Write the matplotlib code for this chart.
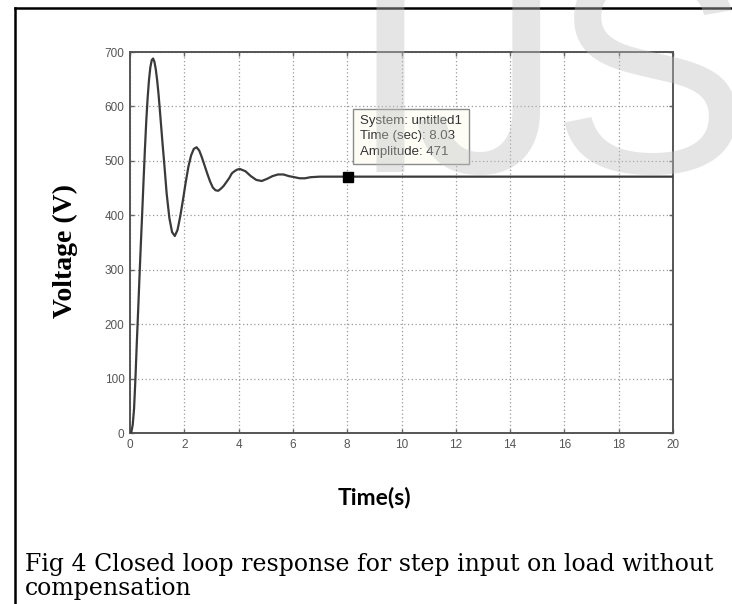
import matplotlib
matplotlib.use("Agg")
import matplotlib.pyplot as plt
from matplotlib.lines import Line2D

# Step response (time in s, voltage in V)
time_s = [0, 0.05, 0.1, 0.15, 0.2, 0.25, 0.3, 0.35, 0.4, 0.45, 0.5, 0.55,
          0.6, 0.65, 0.7, 0.75, 0.8, 0.85, 0.9, 0.95, 1.0, 1.05, 1.1, 1.15,
          1.2, 1.25, 1.35, 1.45, 1.55, 1.65, 1.75, 1.85, 1.95, 2.05, 2.15,
          2.25, 2.35, 2.45, 2.55, 2.65, 2.75, 2.85, 2.95, 3.05, 3.15, 3.25,
          3.35, 3.45, 3.55, 3.65, 3.75, 3.85, 3.95, 4.05, 4.25, 4.45, 4.65,
          4.85, 5.05, 5.25, 5.45, 5.65, 5.85, 6.05, 6.25, 6.45, 6.65, 7.0,
          8.03, 20]
voltage = [0, 2, 15, 45, 100, 165, 225, 288, 348, 405, 465, 522,
           574, 616, 649, 672, 685, 688, 682, 668, 648, 623, 593, 562,
           531, 502, 440, 395, 369, 362, 373, 398, 428, 460, 489,
           510, 522, 525, 519, 506, 491, 476, 462, 451, 446, 445,
           449, 454, 461, 468, 477, 481, 484, 485, 481, 472, 465,
           463, 467, 472, 475, 475, 472, 470, 468, 468, 470, 471,
           471, 471]

# data tip
tip_t = 8.03
tip_v = 471
tip_lines = ["System: untitled1", "Time (sec): 8.03", "Amplitude: 471"]

x_ticks = list(range(0, 21, 2))
y_ticks = list(range(0, 701, 100))

fig = plt.figure(figsize=(7.32, 6.04), dpi=100)
ax = fig.add_axes([0.1776, 0.2831, 0.7418, 0.6308])

ax.plot(time_s, voltage, color="#3a3a3a", linewidth=1.6, zorder=3)
ax.plot([tip_t], [tip_v], marker="s", markersize=7, color="black", zorder=4)

ax.set_xlim(0, 20)
ax.set_ylim(0, 700)
ax.set_xticks(x_ticks)
ax.set_yticks(y_ticks)
ax.tick_params(direction="in", length=3, width=1, colors="#666666",
               labelcolor="#555555", labelsize=8.5, top=True, right=True,
               pad=4)
for lbl in ax.get_xticklabels() + ax.get_yticklabels():
    lbl.set_family("Liberation Sans")
ax.grid(True, linestyle=(0, (1, 2)), color="#9a9a9a", linewidth=0.9)
for sp in ax.spines.values():
    sp.set_color("#555555")
    sp.set_linewidth(1.4)

# data tip box
ax.text(0.4236, 0.834, "\n".join(tip_lines), transform=ax.transAxes,
        fontsize=9.5, family="Liberation Sans", color="#333333",
        va="top", ha="left", linespacing=1.35,
        bbox=dict(boxstyle="square,pad=0.5", fc="#fdfdf6", ec="#8a8a8a", lw=1),
        zorder=5)

# axis labels
fig.text(0.090, 0.5844, "Voltage (V)", rotation=90, ha="center",
         va="center", fontsize=20, fontweight="bold", family="Liberation Serif")
fig.text(0.512, 0.176, "Time(s)", ha="center", va="center", fontsize=16.5,
         fontweight="bold", family="Lato")

# caption
fig.text(0.034, 1 - 553 / 604,
         "Fig 4 Closed loop response for step input on load without\ncompensation",
         ha="left", va="top", fontsize=17, family="DejaVu Serif",
         linespacing=1.05)

# page border
x0 = 15 / 732
ytop = 1 - 7.5 / 604
fig.add_artist(Line2D([x0, x0], [0, ytop], color="black", lw=1.8))
fig.add_artist(Line2D([x0, 1], [ytop, ytop], color="black", lw=1.8))

# watermark letters
wm_base = 1 - 172 / 604
for letter, left_px in [("I", 348), ("J", 412), ("S", 550)]:
    fig.text(left_px / 732, wm_base, letter, ha="left", va="baseline",
             fontsize=215, family="Liberation Sans", color="#c0c0c0",
             alpha=0.4, zorder=10)

fig.savefig("out.png", dpi=100)
